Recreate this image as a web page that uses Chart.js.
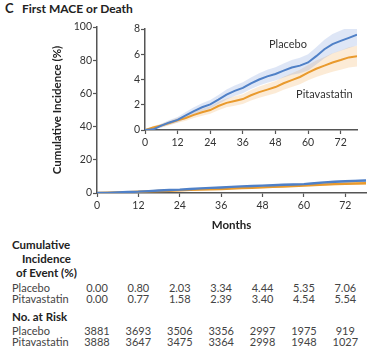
<!DOCTYPE html>
<html>
<head>
<meta charset="utf-8">
<script src="https://cdn.jsdelivr.net/npm/chart.js@4"></script>
<style>
  body { margin: 0; background: #fff; font-family: Lato, sans-serif; }
  #wrap { position: relative; width: 372px; height: 361px; overflow: hidden; }
  .txt { position: absolute; white-space: nowrap; color: #444; font-size: 11px; line-height: 12px; }
  .hd { font-weight: bold; color: #222; font-size: 11.5px; }
  #main { position: absolute; left: 40px; top: 15px; }
  #inset { position: absolute; left: 120px; top: 18px; }
</style>
</head>
<body>
<div id="wrap">
  <div class="txt hd" style="left:5px;top:2px;font-size:13px">C</div>
  <div class="txt hd" style="left:22px;top:3px;font-size:12px">First MACE or Death</div>
  <canvas id="main" width="332" height="220"></canvas>
  <canvas id="inset" width="245" height="132"></canvas>
</div>
<script>
// curve data (months, cumulative incidence %)
months = [0, 3, 6, 9, 12, 15, 18, 21, 24, 27, 30, 33, 36, 39, 42, 45, 48, 51, 54, 57, 60, 63, 66, 69, 72, 75, 78];
placebo   = [0, 0.05, 0.35, 0.6, 0.8, 1.15, 1.5, 1.8, 2.03, 2.4, 2.8, 3.1, 3.34, 3.7, 4.0, 4.25, 4.44, 4.7, 4.95, 5.1, 5.35, 5.85, 6.4, 6.8, 7.06, 7.3, 7.55];
placeboLo = [0, 0, 0.2, 0.42, 0.6, 0.9, 1.22, 1.5, 1.7, 2.05, 2.42, 2.7, 2.92, 3.25, 3.52, 3.75, 3.92, 4.15, 4.38, 4.5, 4.72, 5.18, 5.68, 6.05, 6.28, 6.5, 6.7];
placeboHi = [0, 0.12, 0.5, 0.8, 1.02, 1.42, 1.8, 2.12, 2.38, 2.78, 3.2, 3.52, 3.78, 4.15, 4.5, 4.77, 4.98, 5.27, 5.55, 5.72, 6.0, 6.55, 7.15, 7.6, 7.88, 8.15, 8.4];
pitava    = [0, 0.2, 0.35, 0.55, 0.77, 0.95, 1.2, 1.4, 1.58, 1.9, 2.15, 2.3, 2.45, 2.75, 3.0, 3.2, 3.4, 3.7, 3.95, 4.2, 4.54, 4.85, 5.1, 5.35, 5.54, 5.75, 5.85];
pitavaLo  = [0, 0.08, 0.2, 0.38, 0.57, 0.73, 0.95, 1.12, 1.28, 1.57, 1.8, 1.93, 2.06, 2.33, 2.56, 2.74, 2.92, 3.19, 3.41, 3.63, 3.94, 4.2, 4.42, 4.62, 4.78, 4.95, 5.02];
pitavaHi  = [0, 0.32, 0.5, 0.72, 0.97, 1.17, 1.45, 1.68, 1.88, 2.23, 2.5, 2.67, 2.84, 3.17, 3.44, 3.66, 3.88, 4.21, 4.49, 4.77, 5.14, 5.5, 5.78, 6.08, 6.3, 6.55, 6.68];

// table below the chart
tableMonths = [0, 12, 24, 36, 48, 60, 72];
incPlacebo = ["0.00", "0.80", "2.03", "3.34", "4.44", "5.35", "7.06"];
incPitava  = ["0.00", "0.77", "1.58", "2.39", "3.40", "4.54", "5.54"];
riskPlacebo = [3881, 3693, 3506, 3356, 2997, 1975, 919];
riskPitava  = [3888, 3647, 3475, 3364, 2998, 1948, 1027];

blue = '#4f80c7';
orange = '#e99a2d';
blueBand = 'rgba(125,155,218,0.25)';
orangeBand = 'rgba(244,182,105,0.27)';
axisColor = '#555';
tickColor = '#333';

function pts(vals) {
    return months.map((m, i) => ({x: m, y: vals[i]}));
}

function make_datasets(lineWidth) {
    return [
        {data: pts(placebo), borderColor: blue, borderWidth: lineWidth, pointRadius: 0, fill: false},
        {data: pts(pitava), borderColor: orange, borderWidth: lineWidth, pointRadius: 0, fill: false},
        {data: pts(placeboHi), borderWidth: 0, pointRadius: 0, backgroundColor: blueBand, fill: '+1'},
        {data: pts(placeboLo), borderWidth: 0, pointRadius: 0, fill: false},
        {data: pts(pitavaHi), borderWidth: 0, pointRadius: 0, backgroundColor: orangeBand, fill: '+1'},
        {data: pts(pitavaLo), borderWidth: 0, pointRadius: 0, fill: false}
    ];
}

function axis(min, max, step, fixSize, title) {
    const a = {
        type: 'linear', min: min, max: max,
        border: {color: axisColor, width: 1.5},
        grid: {drawOnChartArea: false, tickLength: 4, color: axisColor, tickWidth: 1.2},
        ticks: {stepSize: step, includeBounds: false, color: tickColor, font: {family: 'Lato', size: 10.5}, padding: 2},
        afterFit: fixSize
    };
    if (title) a.title = title;
    return a;
}

Chart.defaults.font.family = 'Lato';

// main chart, 0-100 %
mainChart = new Chart(document.getElementById('main'), {
    type: 'line',
    data: {datasets: make_datasets(2.4)},
    options: {
        responsive: false, animation: false,
        layout: {padding: {top: 12, right: 6, left: 0, bottom: 0}},
        plugins: {legend: {display: false}, tooltip: {enabled: false}},
        scales: {
            x: axis(0, 78, 12, s => { s.height = 42; }, {
                display: true, text: 'Months', color: '#222',
                font: {family: 'Lato', size: 11.5, weight: 'bold'}, padding: {top: 0, bottom: 3}
            }),
            y: axis(0, 100, 20, s => { s.width = 57; }, {
                display: true, text: 'Cumulative Incidence (%)', color: '#222',
                font: {family: 'Lato', size: 11.5, weight: 'bold'}, padding: {top: 10, bottom: 0}
            })
        }
    }
});
mainChart.options.scales.y.ticks.padding = 1;
mainChart.update();

// curve labels in the inset
curveLabels = {
    id: 'curveLabels',
    afterDatasetsDraw(chart) {
        const ctx = chart.ctx, x = chart.scales.x, y = chart.scales.y;
        ctx.save();
        ctx.font = '11px Lato';
        ctx.fillStyle = '#333';
        ctx.textAlign = 'center';
        ctx.textBaseline = 'middle';
        ctx.fillText('Placebo', x.getPixelForValue(52.6), y.getPixelForValue(6.75));
        ctx.fillText('Pitavastatin', x.getPixelForValue(66), y.getPixelForValue(2.8));
        ctx.restore();
    }
};

// zoomed inset, 0-8 %
insetChart = new Chart(document.getElementById('inset'), {
    type: 'line',
    data: {datasets: make_datasets(2)},
    options: {
        responsive: false, animation: false,
        layout: {padding: {top: 11, right: 8, left: 0, bottom: 0}},
        plugins: {legend: {display: false}, tooltip: {enabled: false}},
        scales: {
            x: axis(0, 78, 12, s => { s.height = 20; }),
            y: axis(0, 8, 2, s => { s.width = 25; })
        }
    },
    plugins: [curveLabels]
});
insetChart.options.scales.y.ticks.padding = 1;
insetChart.update();

// table, columns sit on the main chart's month ticks
wrap = document.getElementById('wrap');
function add_text(txt, left, top, cls, center) {
    const d = document.createElement('div');
    d.className = 'txt ' + (cls || '');
    d.textContent = txt;
    d.style.left = left + 'px';
    d.style.top = top + 'px';
    if (center) d.style.transform = 'translateX(-50%)';
    wrap.append(d);
}

add_text('Cumulative', 12, 239, 'hd');
add_text('Incidence', 22, 253, 'hd');
add_text('of Event (%)', 16, 267, 'hd');
add_text('No. at Risk', 12, 311, 'hd');

rows = [
    ['Placebo', incPlacebo, 282],
    ['Pitavastatin', incPitava, 293],
    ['Placebo', riskPlacebo, 325],
    ['Pitavastatin', riskPitava, 336]
];
for (let row of rows) {
    add_text(row[0], 12, row[2]);
    tableMonths.forEach((m, i) => {
        add_text(String(row[1][i]), 40 + mainChart.scales.x.getPixelForValue(m), row[2], '', true);
    });
}
</script>
</body>
</html>
